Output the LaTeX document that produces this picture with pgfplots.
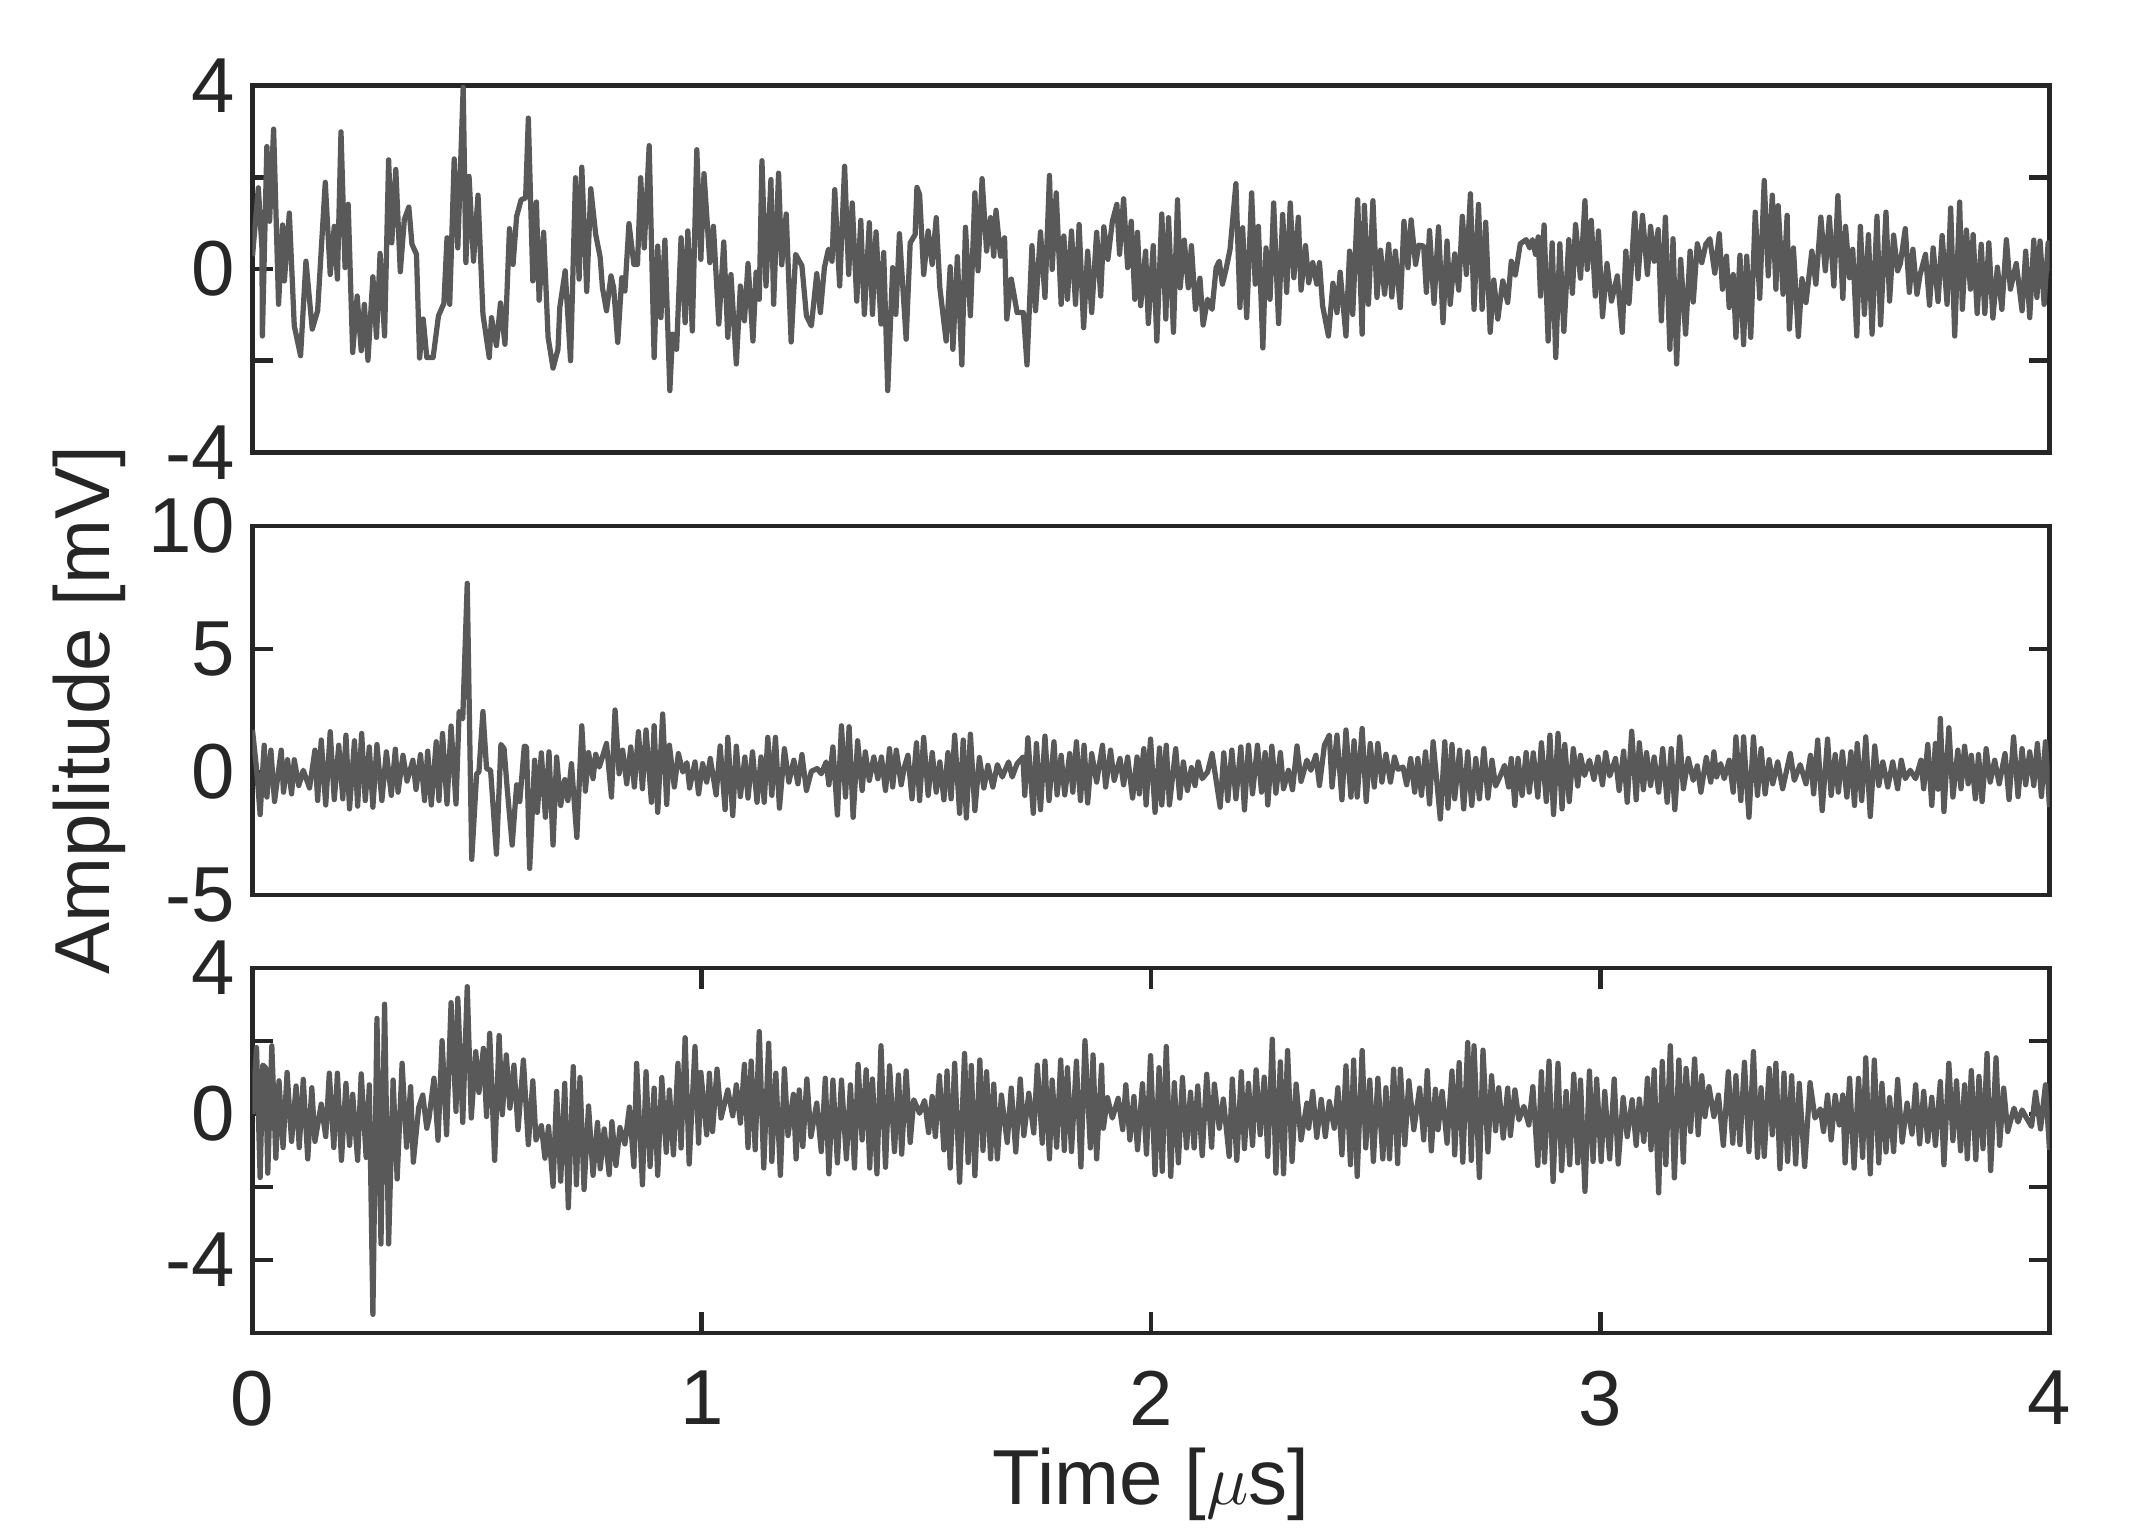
\documentclass[border=0pt]{standalone}
\usepackage{fontspec}
\setmainfont{Liberation Sans}
\usepackage{pgfplots}
\pgfplotsset{compat=1.18}
\definecolor{axc}{HTML}{262626}
\definecolor{sigc}{HTML}{595959}
\newcommand{\fs}{\fontsize{15.6}{18.7}\selectfont}
\pgfplotsset{
  base/.style={
    scale only axis, width=359.4pt, xmin=0, xmax=4,
    anchor=north west,
    axis line style={draw=axc, line width=0.95pt},
    tick style={color=axc, line width=0.95pt},
    major tick length=4.2pt,
    tick align=inside,
    xtick pos=both, ytick pos=both,
    xticklabel pos=lower, yticklabel pos=left,
    tick label style={font=\fs, text=axc},
    xticklabel style={yshift=-4pt},
    minor tick num=0,
  },
  sig/.style={color=sigc, line width=1.05pt, line join=round, mark=none},
}
\begin{document}
\begin{tikzpicture}
\path (0pt,0pt) rectangle (429pt,-305.8pt);
% ---------------- panel 1 ----------------
\begin{axis}[base, at={(50.5pt,-17.1pt)}, height=73.4pt,
  ymin=-4, ymax=4, ytick={-4,-2,0,2,4}, yticklabels={-4,,0,,4}, xtick=\empty]
\addplot[sig] coordinates {
(0,0.28) (0.013,1.77) (0.021,0.46) (0.022,-1.46) (0.032,2.67) (0.038,1.04) (0.047,3.05) (0.058,-0.77) (0.067,0.96) (0.071,-0.26) (0.082,1.22) (0.093,-1.24) (0.107,-1.89) (0.119,0.17) (0.133,-1.31) (0.145,-0.91) (0.162,1.89) (0.173,-0.12) (0.182,0.93) (0.189,-0.22) (0.197,2.99) (0.206,0.03) (0.213,1.41) (0.223,-1.82) (0.233,-0.59) (0.242,-1.78) (0.249,-0.77) (0.257,-1.99) (0.268,-0.17) (0.276,-1.49) (0.284,0.34) (0.294,-1.46) (0.303,2.38) (0.310,0.57) (0.319,2.17) (0.329,-0.06) (0.338,1.08) (0.348,1.35) (0.355,0.54) (0.365,0.32) (0.372,-1.94) (0.380,-1.09) (0.388,-1.93) (0.402,-1.93) (0.414,-1.02) (0.426,-0.75) (0.433,0.68) (0.439,-0.77) (0.449,2.40) (0.457,0.46) (0.469,3.96) (0.475,0.14) (0.482,2.02) (0.492,0.17) (0.502,1.61) (0.513,-0.99) (0.527,-1.93) (0.532,-1.06) (0.543,-1.67) (0.552,-0.74) (0.562,-1.64) (0.572,0.88) (0.580,0.10) (0.588,1.15) (0.598,1.51) (0.608,1.55) (0.614,3.29) (0.624,-0.26) (0.632,1.46) (0.638,-0.68) (0.648,0.80) (0.658,-1.49) (0.669,-2.16) (0.680,-1.75) (0.684,-0.84) (0.696,-0.04) (0.708,-2.00) (0.719,1.99) (0.727,-0.22) (0.733,2.22) (0.744,-0.49) (0.753,1.75) (0.764,0.75) (0.774,0.25) (0.779,-0.41) (0.788,-0.91) (0.798,-0.15) (0.804,-0.41) (0.813,-1.60) (0.822,-0.19) (0.829,-0.48) (0.838,0.99) (0.849,0.10) (0.857,0.10) (0.864,1.99) (0.872,0.46) (0.883,2.69) (0.894,-1.93) (0.902,0.50) (0.909,-1.06) (0.918,0.63) (0.929,-2.65) (0.935,-1.42) (0.944,-1.75) (0.954,0.68) (0.963,-1.17) (0.969,0.83) (0.979,-1.35) (0.989,2.60) (0.998,0.21) (1.005,2.08) (1.018,0.14) (1.026,0.93) (1.038,-1.20) (1.049,0.59) (1.058,-1.49) (1.065,-0.12) (1.077,-2.07) (1.086,-0.37) (1.095,-1.13) (1.103,0.12) (1.114,-1.57) (1.121,-0.07) (1.128,-0.66) (1.134,2.36) (1.143,-0.37) (1.154,1.95) (1.160,-0.77) (1.171,2.09) (1.178,0.09) (1.188,1.20) (1.199,-1.59) (1.209,0.32) (1.223,0.07) (1.233,-1.02) (1.244,-1.24) (1.256,-0.10) (1.264,-0.95) (1.273,0.03) (1.282,0.43) (1.290,0.17) (1.296,1.73) (1.307,-0.37) (1.318,2.24) (1.327,-0.12) (1.335,1.44) (1.345,-0.70)
(1.354,1.06) (1.362,-0.99) (1.373,1.01) (1.380,-0.99) (1.388,0.81) (1.399,-1.20) (1.405,0.36) (1.414,-2.65) (1.425,0.03) (1.432,-0.99) (1.440,0.77) (1.455,-1.53) (1.464,0.57) (1.475,0.75) (1.479,1.78) (1.485,1.62) (1.494,-0.12) (1.504,0.83) (1.513,0.10) (1.522,1.12) (1.530,-0.41) (1.544,-1.57) (1.553,0.05) (1.559,-1.75) (1.569,0.27) (1.579,-2.09) (1.587,0.91) (1.598,-1.02) (1.608,1.66) (1.615,-0.04) (1.624,1.97) (1.634,0.39) (1.643,1.12) (1.650,0.28) (1.655,1.28) (1.665,0.28) (1.674,0.68) (1.679,-1.09) (1.689,-0.22) (1.702,-0.95) (1.716,-0.95) (1.724,-2.09) (1.735,0.51) (1.743,-0.91) (1.754,0.81) (1.764,-0.62) (1.774,2.04) (1.780,-0.01) (1.789,1.66) (1.800,-0.77) (1.806,0.72) (1.814,-0.66) (1.823,0.83) (1.832,-0.77) (1.840,0.97) (1.850,-1.28) (1.859,0.39) (1.868,-0.95) (1.879,0.80) (1.888,-0.59) (1.895,0.92) (1.904,0.21) (1.914,1.04) (1.924,1.41) (1.930,0.32) (1.939,1.53) (1.948,0.03) (1.956,1.04) (1.964,-0.66) (1.970,0.80) (1.977,-0.80) (1.988,0.39) (1.994,-1.19) (2.005,0.51) (2.013,-1.57) (2.024,1.20) (2.033,-1.09) (2.039,1.12) (2.050,-1.38) (2.059,1.51) (2.065,-0.41) (2.074,0.63) (2.083,-0.41) (2.090,0.51) (2.099,-0.88) (2.109,-0.20) (2.116,-1.22) (2.126,-0.66) (2.136,-0.88) (2.145,0.03) (2.152,0.17) (2.159,-0.33) (2.167,-0.01) (2.176,0.43) (2.189,1.86) (2.198,-0.84) (2.204,0.90) (2.213,-1.06) (2.224,1.66) (2.232,-0.33) (2.239,0.93) (2.249,-1.72) (2.256,0.46) (2.265,-0.66) (2.273,1.44) (2.284,-1.19) (2.293,1.19) (2.302,-0.51) (2.310,1.44) (2.318,-0.19) (2.328,1.13) (2.334,-0.46) (2.344,0.51) (2.351,-0.30) (2.360,0.14) (2.369,-0.33) (2.375,0.14) (2.382,-0.80) (2.395,-1.46) (2.405,-0.31) (2.414,-0.95) (2.421,-0.07) (2.434,-1.46) (2.442,0.39) (2.449,-0.99) (2.460,1.51) (2.470,-1.42) (2.475,1.39) (2.484,-0.77) (2.494,1.49) (2.503,-0.62) (2.511,0.41) (2.520,-0.55) (2.529,0.54) (2.536,-0.61) (2.544,0.39) (2.555,-0.84) (2.563,1.04) (2.572,0.03) (2.579,1.07) (2.589,0.10) (2.596,0.52) (2.607,0.50) (2.613,-0.51) (2.620,0.84) (2.630,-0.75) (2.640,0.92) (2.650,-1.17) (2.659,0.61) (2.666,-0.77)
(2.676,0.33) (2.685,-0.46) (2.693,1.15) (2.702,-0.12) (2.711,1.64) (2.719,-0.88) (2.729,1.41) (2.737,-0.88) (2.745,1.02) (2.755,-1.38) (2.763,-0.24) (2.772,-1.09) (2.783,-0.26) (2.794,-0.73) (2.802,0.17) (2.811,-0.13) (2.822,0.55) (2.835,0.64) (2.843,0.46) (2.849,0.64) (2.856,0.32) (2.862,0.70) (2.867,-0.59) (2.875,0.96) (2.884,-1.57) (2.893,0.57) (2.901,-1.93) (2.910,0.55) (2.919,-1.36) (2.930,0.64) (2.938,-0.53) (2.945,0.97) (2.956,-0.20) (2.966,1.49) (2.971,-0.01) (2.980,1.06) (2.989,-0.59) (2.996,0.83) (3.005,-1.04) (3.015,0.12) (3.025,-0.70) (3.038,-0.15) (3.049,-1.38) (3.057,0.39) (3.064,-0.75) (3.077,1.22) (3.084,-0.21) (3.094,1.17) (3.105,-0.12) (3.112,0.93) (3.120,0.17) (3.129,0.86) (3.136,-1.13) (3.145,1.13) (3.155,-1.75) (3.162,0.66) (3.170,-2.07) (3.179,0.21) (3.190,-1.42) (3.200,0.39) (3.207,-0.72) (3.216,0.55) (3.226,0.14) (3.235,0.54) (3.244,0.66) (3.255,-0.09) (3.265,0.77) (3.272,-0.44) (3.281,0.28) (3.287,-0.84) (3.296,-0.12) (3.302,-1.49) (3.311,0.30) (3.319,-1.65) (3.326,0.28) (3.335,-1.49) (3.345,1.24) (3.355,-0.64) (3.365,1.93) (3.374,-0.15) (3.383,1.61) (3.391,-0.44) (3.396,1.38) (3.407,-0.55) (3.416,1.17) (3.421,-1.31) (3.430,0.46) (3.441,-1.47) (3.449,-0.21) (3.458,-0.73) (3.471,0.39) (3.480,-0.33) (3.491,1.13) (3.501,-0.04) (3.510,1.13) (3.520,-0.37) (3.529,1.60) (3.540,-0.64) (3.546,0.93) (3.555,-0.19) (3.562,0.43) (3.571,-1.46) (3.579,0.93) (3.588,-0.99) (3.597,0.75) (3.605,-1.42) (3.616,1.15) (3.624,-1.22) (3.636,1.24) (3.644,-0.70) (3.653,0.74) (3.662,-0.04) (3.668,0.12) (3.679,0.88) (3.688,-0.51) (3.696,0.43) (3.705,-0.55) (3.712,-0.12) (3.724,0.32) (3.733,-0.79) (3.741,0.46) (3.752,-0.71) (3.761,0.73) (3.772,-0.77) (3.780,1.33) (3.789,-1.46) (3.800,1.46) (3.806,-0.88) (3.815,0.85) (3.824,-0.44) (3.830,0.75) (3.839,-0.97) (3.848,0.54) (3.856,-0.97) (3.865,0.57) (3.874,-1.07) (3.884,0.04) (3.894,-0.88) (3.904,0.64) (3.913,-0.44) (3.926,0.12) (3.939,-0.91) (3.947,0.39) (3.956,-1.06) (3.965,0.63) (3.972,-0.62) (3.979,0.61) (3.988,-0.77) (3.997,0.57) (4.000,-0.04)
};
\end{axis}
% ---------------- panel 2 ----------------
\begin{axis}[base, at={(50.5pt,-105.2pt)}, height=73.8pt,
  ymin=-5, ymax=10, ytick={-5,0,5,10}, yticklabels={-5,0,5,10}, xtick=\empty,
  ylabel={Amplitude [mV]},
  every axis y label/.style={at={(axis description cs:-0.091,0.5)}, rotate=90, anchor=center, font=\fs, text=axc}]
\addplot[sig] coordinates {
(0,1.71) (0.009,0.14) (0.017,-1.73) (0.026,1.09) (0.032,-1.02) (0.041,0.89) (0.049,-1.20) (0.064,0.89) (0.069,-0.82) (0.078,0.50) (0.087,-0.89) (0.093,0.50) (0.103,-0.55) (0.113,0.07) (0.127,-0.65) (0.139,0.89) (0.145,-1.16) (0.153,1.30) (0.163,-1.34) (0.173,1.64) (0.182,-1.12) (0.192,1.09) (0.201,-1.09) (0.208,1.50) (0.216,-1.50) (0.227,1.27) (0.234,-1.39) (0.243,1.57) (0.251,-1.16) (0.260,1.02) (0.268,-1.43) (0.277,1.12) (0.288,-1.16) (0.298,0.82) (0.309,-0.95) (0.318,0.93) (0.324,-0.82) (0.335,0.68) (0.344,-0.37) (0.357,0.48) (0.364,-0.71) (0.374,0.71) (0.383,-1.16) (0.390,0.85) (0.398,-1.34) (0.409,1.23) (0.415,-1.16) (0.423,1.57) (0.433,-1.30) (0.442,1.87) (0.453,-1.30) (0.460,2.46) (0.468,2.16) (0.478,7.67) (0.488,-3.55) (0.499,-0.07) (0.504,0.00) (0.513,2.46) (0.521,0.14) (0.530,0.07) (0.543,-3.34) (0.553,1.12) (0.560,0.95) (0.567,-0.68) (0.578,-2.97) (0.588,-0.52) (0.595,-1.20) (0.605,1.05) (0.610,1.02) (0.617,-3.92) (0.628,0.48) (0.634,-1.64) (0.643,0.78) (0.652,-1.84) (0.660,0.82) (0.669,-2.97) (0.677,0.61) (0.686,-1.36) (0.695,-0.31) (0.702,-1.16) (0.710,0.34) (0.722,-2.66) (0.733,1.88) (0.741,-0.78) (0.748,0.79) (0.758,-0.27) (0.764,0.72) (0.772,0.20) (0.788,1.16) (0.799,-1.02) (0.807,2.52) (0.816,-0.07) (0.824,0.89) (0.833,-0.48) (0.842,1.02) (0.850,-0.61) (0.859,1.64) (0.868,-0.68) (0.876,1.71) (0.888,-1.23) (0.894,1.88) (0.902,-1.64) (0.913,2.36) (0.922,-1.32) (0.928,1.09) (0.939,-0.61) (0.948,0.75) (0.958,0.00) (0.967,0.38) (0.973,-0.65) (0.985,0.41) (0.993,-0.89) (1.002,0.34) (1.011,-0.41) (1.019,0.55) (1.032,-0.93) (1.041,1.06) (1.052,-1.53) (1.058,1.41) (1.069,-1.77) (1.077,1.05) (1.086,-1.00) (1.096,0.61) (1.103,-1.06) (1.113,0.82) (1.123,-1.23) (1.132,0.61) (1.139,-1.23) (1.147,1.41) (1.156,-0.95) (1.164,1.41) (1.173,-1.47) (1.184,0.95) (1.194,-0.41) (1.205,0.48) (1.214,-0.48) (1.223,0.71) (1.233,-0.75) (1.244,0.03) (1.257,0.14) (1.266,-0.07) (1.277,0.41) (1.283,-0.52) (1.292,1.02) (1.302,-1.75) (1.311,1.88) (1.320,-1.02) (1.328,1.84) (1.337,-1.84)
(1.347,1.27) (1.357,-0.75) (1.364,0.82) (1.373,-0.34) (1.383,0.61) (1.392,-0.27) (1.400,0.61) (1.409,-0.75) (1.418,0.95) (1.425,-0.61) (1.433,0.89) (1.444,-0.52) (1.451,0.20) (1.459,0.68) (1.468,-1.09) (1.478,1.19) (1.485,-1.16) (1.494,1.41) (1.504,-0.95) (1.513,0.79) (1.522,-0.82) (1.530,0.41) (1.539,-1.13) (1.548,0.79) (1.555,-1.09) (1.563,1.50) (1.574,-1.68) (1.582,1.30) (1.589,-1.87) (1.598,1.54) (1.608,-1.57) (1.618,0.59) (1.628,-0.65) (1.637,0.27) (1.648,-0.61) (1.658,0.30) (1.669,-0.20) (1.683,0.41) (1.691,-0.20) (1.702,0.34) (1.715,0.61) (1.719,-0.95) (1.726,1.39) (1.738,-1.68) (1.745,1.16) (1.754,-1.53) (1.764,1.46) (1.773,-1.16) (1.784,1.23) (1.791,-0.93) (1.800,0.68) (1.808,-0.93) (1.819,0.75) (1.826,-0.82) (1.834,1.23) (1.843,-1.16) (1.851,1.09) (1.859,-1.26) (1.868,0.75) (1.879,-0.41) (1.892,1.09) (1.899,-0.61) (1.910,0.89) (1.918,-0.34) (1.931,0.55) (1.939,-0.52) (1.948,0.61) (1.959,-1.06) (1.969,0.61) (1.974,-0.89) (1.984,0.95) (1.989,-1.34) (1.999,1.34) (2.009,-1.64) (2.019,0.98) (2.024,-1.34) (2.034,1.09) (2.041,-1.34) (2.055,0.95) (2.064,-1.06) (2.072,0.41) (2.081,-0.75) (2.090,0.18) (2.098,-0.55) (2.105,0.41) (2.114,-0.27) (2.126,0.00) (2.136,0.75) (2.154,-1.43) (2.162,0.78) (2.171,-1.16) (2.180,0.89) (2.189,-1.09) (2.200,1.02) (2.208,-1.54) (2.217,1.09) (2.226,-0.89) (2.237,1.09) (2.246,-0.82) (2.254,0.79) (2.260,-1.34) (2.269,1.05) (2.278,-0.86) (2.288,0.79) (2.295,-0.68) (2.306,0.07) (2.315,-0.72) (2.325,1.06) (2.334,-0.38) (2.347,0.48) (2.356,0.07) (2.367,0.68) (2.375,-0.55) (2.386,1.09) (2.397,1.50) (2.403,-0.61) (2.414,1.50) (2.425,-1.13) (2.434,1.71) (2.445,-1.02) (2.452,1.27) (2.459,-1.02) (2.470,1.77) (2.479,-1.20) (2.488,1.16) (2.497,-0.61) (2.505,1.16) (2.514,-0.41) (2.523,0.72) (2.533,-0.41) (2.542,0.61) (2.550,0.11) (2.561,0.20) (2.569,-0.52) (2.578,0.55) (2.587,-0.82) (2.594,0.55) (2.602,-0.95) (2.611,0.82) (2.620,-1.30) (2.628,1.23) (2.644,-1.91) (2.654,1.23) (2.661,-1.47) (2.670,1.12) (2.676,-1.09)
(2.687,0.89) (2.696,-1.50) (2.705,0.82) (2.714,-1.36) (2.723,0.55) (2.731,-1.09) (2.741,0.95) (2.750,-1.06) (2.759,0.48) (2.767,-0.57) (2.778,-0.14) (2.787,0.27) (2.796,-0.61) (2.802,0.55) (2.810,-1.36) (2.817,0.55) (2.826,-0.95) (2.835,0.79) (2.842,-0.82) (2.851,0.78) (2.861,-1.02) (2.869,1.19) (2.880,-1.20) (2.888,1.50) (2.896,-1.73) (2.906,1.57) (2.915,-1.50) (2.921,1.12) (2.931,-1.20) (2.940,0.95) (2.950,-0.57) (2.956,0.68) (2.965,-0.14) (2.976,0.48) (2.986,-0.30) (2.995,0.61) (3.005,-0.52) (3.012,0.79) (3.021,-0.16) (3.034,0.55) (3.042,-0.75) (3.052,0.85) (3.060,-1.23) (3.070,1.66) (3.080,-1.13) (3.087,1.19) (3.096,-0.72) (3.103,0.79) (3.112,-0.55) (3.120,0.61) (3.130,-0.82) (3.139,0.95) (3.149,-1.23) (3.158,0.95) (3.166,-1.53) (3.177,1.43) (3.185,-0.68) (3.196,0.55) (3.207,-0.34) (3.216,0.25) (3.224,-0.82) (3.236,0.59) (3.246,-0.41) (3.253,0.82) (3.259,-0.20) (3.268,0.34) (3.276,-0.27) (3.287,0.48) (3.296,-0.82) (3.302,1.43) (3.313,-1.16) (3.319,1.43) (3.331,-1.84) (3.341,1.43) (3.350,-0.95) (3.358,0.95) (3.367,-0.89) (3.376,0.50) (3.384,-0.48) (3.395,0.41) (3.406,-0.68) (3.423,0.75) (3.432,-0.34) (3.445,0.30) (3.458,-0.48) (3.468,0.68) (3.475,-0.89) (3.484,1.30) (3.494,-1.57) (3.506,1.34) (3.514,-0.95) (3.523,0.71) (3.530,-0.82) (3.539,0.82) (3.549,-1.02) (3.558,0.82) (3.566,-1.36) (3.572,1.16) (3.582,-1.16) (3.591,1.43) (3.601,-1.81) (3.611,1.06) (3.620,-0.55) (3.629,0.41) (3.640,-0.61) (3.651,0.41) (3.662,-0.68) (3.670,0.48) (3.679,-0.27) (3.690,0.07) (3.702,-0.27) (3.714,0.48) (3.720,-0.68) (3.729,1.12) (3.738,-1.36) (3.746,1.16) (3.752,-0.70) (3.757,2.18) (3.765,-1.61) (3.776,1.80) (3.785,-1.02) (3.796,0.89) (3.803,-0.68) (3.811,1.05) (3.819,-0.48) (3.826,0.68) (3.835,-1.09) (3.842,0.71) (3.850,-1.20) (3.859,0.95) (3.868,-0.41) (3.878,0.48) (3.888,-0.48) (3.901,0.75) (3.910,-1.12) (3.920,1.43) (3.930,-1.00) (3.939,0.95) (3.947,-0.52) (3.956,0.82) (3.965,-0.55) (3.973,1.16) (3.982,-1.00) (3.991,1.23) (4.000,-1.43)
};
\end{axis}
% ---------------- panel 3 ----------------
\begin{axis}[base, at={(50.5pt,-193.6pt)}, height=73pt,
  ymin=-6, ymax=4, ytick={-4,-2,0,2,4}, yticklabels={-4,,0,,4},
  xtick={0,1,2,3,4}, xticklabels={0,1,2,3,4},
  xlabel={Time [$\mu$s]},
  every axis x label/.style={at={(axis description cs:0.5,-0.47)}, anchor=base, font=\fs, text=axc, inner sep=0pt}]
\addplot[sig] coordinates {
(0,0.0) (0.009,1.82) (0.017,-1.74) (0.023,1.34) (0.029,1.27) (0.034,-1.62) (0.043,1.87) (0.052,-1.21) (0.059,0.91) (0.068,-0.92) (0.077,1.14) (0.087,-0.75) (0.097,0.77) (0.104,-0.92) (0.113,0.95) (0.123,-1.23) (0.132,0.72) (0.139,-0.75) (0.153,0.27) (0.163,-0.62) (0.171,1.12) (0.181,-0.92) (0.189,1.12) (0.198,-1.27) (0.208,0.84) (0.216,-0.86) (0.223,0.54) (0.234,-1.27) (0.242,1.10) (0.253,-1.19) (0.260,0.80) (0.268,-5.49) (0.277,2.62) (0.286,-3.56) (0.294,3.01) (0.303,-3.56) (0.313,0.93) (0.322,-1.78) (0.333,1.39) (0.343,-0.91) (0.352,0.75) (0.358,-1.32) (0.370,0.18) (0.379,0.52) (0.388,-0.39) (0.393,-0.11) (0.404,0.98) (0.413,-0.72) (0.422,2.01) (0.432,-0.57) (0.442,3.05) (0.453,0.07) (0.457,3.17) (0.468,-0.23) (0.478,3.49) (0.487,-0.11) (0.497,1.71) (0.504,0.59) (0.514,1.80) (0.521,-0.07) (0.528,2.21) (0.539,-1.27) (0.549,2.15) (0.556,-0.02) (0.565,1.62) (0.573,0.16) (0.582,1.34) (0.591,-0.43) (0.603,1.48) (0.614,-0.84) (0.624,0.91) (0.631,-0.71) (0.643,-0.32) (0.651,-1.21) (0.659,-0.34) (0.669,-1.98) (0.677,0.62) (0.686,-1.84) (0.695,0.84) (0.703,-2.57) (0.714,1.30) (0.721,-1.94) (0.729,1.00) (0.738,-2.07) (0.748,0.22) (0.758,-1.68) (0.768,-0.23) (0.774,-1.50) (0.783,-0.41) (0.794,-1.66) (0.800,-0.21) (0.809,-1.41) (0.818,-0.37) (0.829,-0.82) (0.839,0.19) (0.849,-1.44) (0.855,1.39) (0.868,-1.94) (0.876,1.16) (0.885,-1.44) (0.894,0.71) (0.902,-1.68) (0.911,1.00) (0.921,-1.05) (0.928,0.66) (0.937,-1.12) (0.947,1.39) (0.954,-0.93) (0.963,2.09) (0.972,-1.37) (0.985,1.85) (0.993,-0.80) (0.998,1.14) (1.011,-0.57) (1.017,1.12) (1.024,-0.48) (1.034,1.23) (1.043,-0.11) (1.058,0.66) (1.069,-0.05) (1.077,0.80) (1.086,-0.25) (1.095,1.36) (1.103,-0.92) (1.110,1.45) (1.119,-0.98) (1.128,2.26) (1.138,-1.48) (1.149,1.94) (1.156,-1.30) (1.165,1.12) (1.175,-1.68) (1.184,1.24) (1.192,-0.59) (1.204,0.54) (1.210,-1.23) (1.217,0.66) (1.225,-0.89) (1.234,0.96) (1.243,-0.62) (1.256,0.30) (1.266,-1.03) (1.275,0.98) (1.283,-1.64) (1.292,0.93) (1.302,-1.34) (1.311,0.93) (1.322,-1.23) (1.331,0.80) (1.340,-1.48)
(1.348,1.36) (1.357,-0.71) (1.366,1.21) (1.374,-1.48) (1.380,0.96) (1.390,-1.64) (1.399,1.87) (1.409,-1.46) (1.418,1.32) (1.429,-1.03) (1.438,1.07) (1.445,-1.10) (1.455,1.18) (1.464,-0.78) (1.472,0.39) (1.485,0.02) (1.496,0.37) (1.505,-0.51) (1.513,0.48) (1.520,-0.62) (1.529,1.05) (1.539,-0.98) (1.546,1.18) (1.553,-1.48) (1.563,1.39) (1.574,-1.87) (1.585,1.66) (1.593,-1.33) (1.600,1.33) (1.608,-1.69) (1.619,1.48) (1.626,-1.00) (1.634,1.16) (1.643,-1.23) (1.650,0.82) (1.658,-1.23) (1.667,0.52) (1.680,-0.78) (1.689,0.71) (1.699,-1.04) (1.709,0.96) (1.717,-0.59) (1.728,0.57) (1.739,-0.52) (1.747,1.34) (1.758,-0.80) (1.764,1.45) (1.774,-1.23) (1.780,0.93) (1.790,-0.91) (1.799,1.48) (1.807,-1.00) (1.814,1.27) (1.823,-1.03) (1.834,1.45) (1.844,-1.45) (1.853,2.01) (1.865,-0.93) (1.871,1.62) (1.879,-1.23) (1.890,1.34) (1.894,-0.39) (1.903,0.45) (1.914,-0.11) (1.927,0.43) (1.937,-0.43) (1.944,0.80) (1.953,-0.71) (1.962,0.48) (1.970,-0.98) (1.981,0.83) (1.990,-1.10) (1.999,1.60) (2.009,-1.66) (2.018,1.27) (2.025,-1.57) (2.034,1.85) (2.044,-1.71) (2.052,0.86) (2.061,-1.34) (2.070,1.00) (2.079,-0.93) (2.088,0.60) (2.096,-0.93) (2.104,0.77) (2.114,-1.14) (2.124,1.09) (2.135,-0.91) (2.141,0.82) (2.152,-0.39) (2.161,0.41) (2.174,-1.16) (2.181,0.96) (2.191,-1.27) (2.201,1.16) (2.208,-0.95) (2.217,0.84) (2.226,-0.86) (2.234,1.21) (2.243,-0.57) (2.252,1.01) (2.260,-1.16) (2.270,2.05) (2.278,-1.62) (2.288,1.43) (2.295,-1.64) (2.304,1.74) (2.314,-1.30) (2.323,0.82) (2.334,-0.71) (2.347,0.30) (2.351,-0.39) (2.360,0.62) (2.369,-0.64) (2.379,0.40) (2.388,-0.62) (2.397,0.34) (2.408,-0.39) (2.416,0.72) (2.425,-1.12) (2.434,1.32) (2.444,-1.39) (2.451,1.48) (2.459,-1.71) (2.470,1.74) (2.478,-0.93) (2.487,0.93) (2.495,-1.30) (2.505,0.98) (2.516,-1.23) (2.523,0.72) (2.531,-1.23) (2.540,1.23) (2.549,-1.36) (2.555,1.23) (2.565,-0.84) (2.574,0.91) (2.585,-0.43) (2.598,0.71) (2.607,-0.71) (2.615,1.19) (2.624,-1.01) (2.633,0.68) (2.639,-0.43) (2.648,0.62) (2.659,-0.80) (2.670,1.18) (2.676,-1.12)
(2.686,1.41) (2.694,-1.32) (2.705,1.96) (2.713,-1.27) (2.719,1.87) (2.731,-1.74) (2.739,1.75) (2.750,-1.04) (2.758,1.05) (2.767,-0.46) (2.774,0.72) (2.784,-0.66) (2.794,0.71) (2.800,-0.59) (2.810,0.66) (2.819,-0.16) (2.830,0.21) (2.841,-0.30) (2.850,0.75) (2.861,-1.41) (2.869,1.16) (2.876,-1.32) (2.886,1.45) (2.895,-1.85) (2.906,1.39) (2.914,-1.55) (2.924,0.62) (2.932,-1.39) (2.941,1.09) (2.950,-1.34) (2.956,0.93) (2.966,-2.12) (2.976,1.18) (2.984,-1.30) (2.992,0.96) (3.002,-1.30) (3.010,0.62) (3.021,-1.23) (3.031,0.96) (3.040,-1.37) (3.051,0.45) (3.060,-0.62) (3.071,0.39) (3.080,-0.86) (3.087,0.41) (3.097,-0.75) (3.105,0.98) (3.113,-0.98) (3.120,1.21) (3.130,-2.16) (3.138,1.44) (3.146,-1.39) (3.156,1.87) (3.165,-1.75) (3.175,1.48) (3.185,-1.32) (3.191,1.25) (3.201,-0.48) (3.210,1.51) (3.218,-0.57) (3.226,1.05) (3.233,-0.07) (3.242,0.75) (3.253,-0.07) (3.263,0.52) (3.274,-0.86) (3.285,1.16) (3.295,-0.80) (3.302,1.05) (3.311,-0.84) (3.321,1.42) (3.331,-1.03) (3.341,1.71) (3.350,-1.19) (3.358,0.72) (3.365,-1.16) (3.376,1.25) (3.383,-0.57) (3.391,1.39) (3.400,-1.50) (3.409,1.12) (3.417,-1.30) (3.426,1.05) (3.435,-1.37) (3.443,0.84) (3.455,-1.44) (3.467,0.86) (3.478,-0.11) (3.490,0.14) (3.497,-0.48) (3.506,0.52) (3.514,-0.71) (3.523,0.51) (3.532,-0.30) (3.540,0.52) (3.545,-1.34) (3.555,0.98) (3.565,-1.48) (3.575,0.98) (3.584,-1.19) (3.591,1.54) (3.601,-1.64) (3.610,1.48) (3.620,-1.34) (3.627,0.84) (3.636,-1.04) (3.644,0.45) (3.653,-1.03) (3.662,0.95) (3.672,-0.77) (3.683,0.30) (3.694,-0.55) (3.702,0.80) (3.711,-0.82) (3.720,0.62) (3.729,-0.75) (3.738,0.46) (3.746,-0.86) (3.757,0.89) (3.765,-1.39) (3.776,1.39) (3.785,-0.73) (3.793,0.91) (3.802,-1.01) (3.811,0.80) (3.817,-1.23) (3.826,1.19) (3.836,-1.25) (3.843,1.03) (3.852,-0.95) (3.861,1.66) (3.869,-1.55) (3.881,1.54) (3.889,-0.86) (3.898,0.71) (3.907,-0.48) (3.921,0.16) (3.930,-0.22) (3.939,0.11) (3.947,-0.07) (3.960,-0.34) (3.969,0.60) (3.980,-0.41) (3.991,0.80) (4.000,-0.98)
};
\end{axis}
\end{tikzpicture}
\end{document}
